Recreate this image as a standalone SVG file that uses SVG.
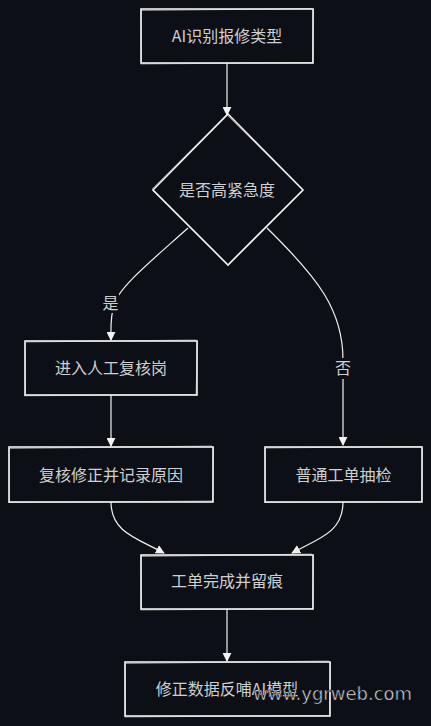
<svg xmlns="http://www.w3.org/2000/svg" width="431" height="726" viewBox="0 0 431 726">
<defs>
<style>
.bg{fill:#0c0f16}
.box{fill:#0c0f16;stroke:#f2f2f2;stroke-width:1.6}
.sk{fill:none;stroke:#ffffff;stroke-width:0.9;opacity:0.55}
.t{font-family:"Noto Sans CJK SC","Noto Sans",sans-serif;font-size:16px;fill:#cfcfcf;text-anchor:middle}
.e{fill:none;stroke:#f2f2f2;stroke-width:1.2}
.lb{fill:#0c0f16}
.wm{font-family:"DejaVu Sans",sans-serif;font-size:18px;fill:#e8e8e8;stroke:#0c0f16;stroke-width:0.6}
</style>
<marker id="ah" viewBox="0 0 10 10" refX="9" refY="5" markerWidth="9" markerHeight="9" markerUnits="userSpaceOnUse" orient="auto">
<path d="M0,0 L10,5 L0,10 z" fill="#f2f2f2"/>
</marker>
</defs>
<rect class="bg" x="0" y="0" width="431" height="726"/>

<g id="connectors">
<path class="e" d="M227,63 L227,115" marker-end="url(#ah)"/>
<path class="e" d="M188,228 C150,262 118,288 114,305 C110,318 111,330 111,340" marker-end="url(#ah)"/>
<path class="e" d="M267,228 C318,278 343,310 343,360 L343,445" marker-end="url(#ah)"/>
<path class="e" d="M111,395 L111,446" marker-end="url(#ah)"/>
<path class="e" d="M111,502 C111,532 136,538 164,553" marker-end="url(#ah)"/>
<path class="e" d="M343,502 C343,532 320,538 292,553" marker-end="url(#ah)"/>
<path class="e" d="M227,609 L227,661" marker-end="url(#ah)"/>
<g id="label-yes">
<rect class="lb" x="102" y="293" width="17" height="20"/>
<text class="t" x="110.5" y="309">是</text>
</g>
<g id="label-no">
<rect class="lb" x="334" y="358" width="18" height="21"/>
<text class="t" x="343" y="373.5">否</text>
</g>
</g>

<g id="n1">
<rect class="box" x="141" y="9" width="172" height="54"/>
<path class="sk" d="M142,10.5 L312,8.5 M313.5,9 L312.5,63 M313,62.5 L140.5,64 M141.5,63 L141,9.5"/>
<text class="t" x="227" y="41.5">AI识别报修类型</text>
</g>

<g id="n2">
<path class="box" d="M228,114 L303,190 L228,265 L153,190 Z"/>
<path class="sk" d="M227,115 L302.5,189.5 M303,190.5 L228.5,264 M227.5,264.5 L152.5,190.5 M152,189 L228,113.5"/>
<text class="t" x="227" y="195.5">是否高紧急度</text>
</g>

<g id="n3">
<rect class="box" x="25" y="341" width="172" height="54"/>
<path class="sk" d="M26,342 L196.5,340 M197.5,341 L196,395.5 M197,394.5 L24,395.8 M25.5,396 L25,342"/>
<text class="t" x="111" y="374">进入人工复核岗</text>
</g>

<g id="n4">
<rect class="box" x="9" y="447" width="204" height="55"/>
<path class="sk" d="M10,448.5 L212,446 M213.5,447 L212.5,502 M213,501 L8.5,502.5 M9.5,503 L9,448"/>
<text class="t" x="111" y="480.5">复核修正并记录原因</text>
</g>

<g id="n5">
<rect class="box" x="265" y="447" width="157" height="55"/>
<path class="sk" d="M266,448 L421,446.5 M422.5,447.5 L421.5,502 M422,501.5 L264.5,502.5 M265.5,503 L265,448"/>
<text class="t" x="343.5" y="480.5">普通工单抽检</text>
</g>

<g id="n6">
<rect class="box" x="141" y="555" width="172" height="54"/>
<path class="sk" d="M142,556.5 L312,554 M313.5,555 L312.5,609.5 M313,608.5 L140.5,610 M141.5,609.5 L141,556"/>
<text class="t" x="227" y="587">工单完成并留痕</text>
</g>

<g id="n7">
<rect class="box" x="125" y="662" width="205" height="54"/>
<path class="sk" d="M126,663.5 L329,661 M330.5,662 L329.5,716.5 M330,715.5 L124.5,717 M125.5,716.5 L125,663"/>
<text class="t" x="227" y="695">修正数据反哺AI模型</text>
</g>

<text class="wm" x="253" y="700">www.ygrweb.com</text>
</svg>
